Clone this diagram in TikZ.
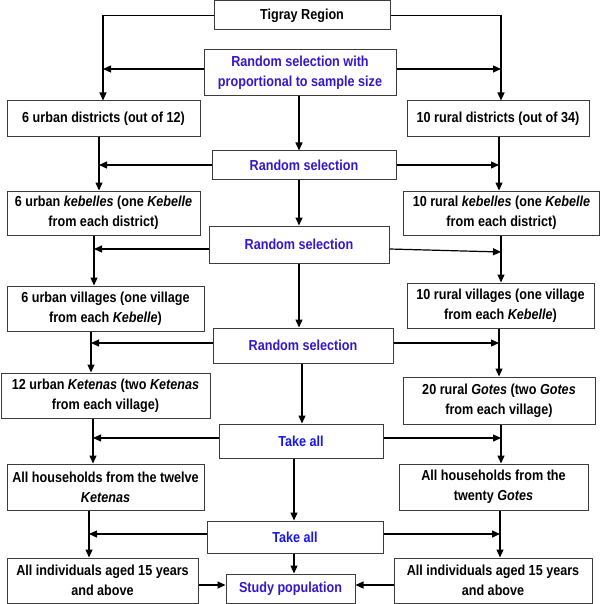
\documentclass[tikz,border=0pt]{standalone}
\usepackage{fontspec}
\setmainfont[FakeStretch=0.87]{Liberation Sans}
\usetikzlibrary{arrows.meta}
\definecolor{rsel}{RGB}{52,22,204}
\definecolor{takec}{RGB}{22,22,240}
\definecolor{boxc}{RGB}{60,60,60}
\begin{document}
\begin{tikzpicture}[x=1pt,y=-1pt,
  box/.style={draw=boxc,line width=1pt,rectangle,inner sep=0pt,align=center,
    font=\fontsize{14.5}{20}\selectfont\bfseries},
  bluebox/.style={box,text=rsel},
  takebox/.style={box,text=takec},
  ln/.style={line width=1.2pt,black},
  arr/.style={ln,-{Triangle[length=8pt,width=7pt]}}]
\useasboundingbox (0,0) rectangle (600,604);
% nodes
\node[box,minimum width=176,minimum height=29] (tig) at (302,15.5) {Tigray Region};
\node[bluebox,minimum width=192,minimum height=46] (rs1) at (300,73) {Random selection with\\proportional to sample size};
\node[box,minimum width=193,minimum height=36] (ud) at (103.5,119) {6 urban districts (out of 12)};
\node[box,minimum width=182,minimum height=36] (rd) at (498,119) {10 rural districts (out of 34)};
\node[bluebox,minimum width=184,minimum height=28] (rs2) at (304,165) {Random selection};
\node[box,minimum width=193,minimum height=44] (uk) at (103.5,213) {6 urban \textit{kebelles} (one \textit{Kebelle}\\from each district)};
\node[box,minimum width=196,minimum height=44] (rk) at (501.5,213) {10 rural \textit{kebelles} (one \textit{Kebelle}\\from each district)};
\node[bluebox,minimum width=180,minimum height=37] (rs3) at (299,244.5) {Random selection};
\node[box,minimum width=197,minimum height=45] (uv) at (105.5,308.5) {6 urban villages (one village\\from each \textit{Kebelle})};
\node[box,minimum width=187,minimum height=45] (rv) at (500.5,305.5) {10 rural villages (one village\\from each \textit{Kebelle})};
\node[bluebox,minimum width=180,minimum height=35] (rs4) at (303,345.5) {Random selection};
\node[box,minimum width=209,minimum height=45] (uket) at (105.5,395.5) {12 urban \textit{Ketenas} (two \textit{Ketenas}\\from each village)};
\node[box,minimum width=192,minimum height=47] (rg) at (499,400.5) {20 rural \textit{Gotes} (two \textit{Gotes}\\from each village)};
\node[takebox,minimum width=164,minimum height=34] (ta1) at (301,441) {Take all};
\node[box,minimum width=197,minimum height=46] (uh) at (105.5,487) {All households from the twelve\\\textit{Ketenas}};
\node[box,minimum width=189,minimum height=46] (rh) at (493.5,487) {All households from the\\twenty \textit{Gotes}};
\node[takebox,minimum width=176,minimum height=32] (ta2) at (295,537) {Take all};
\node[box,minimum width=191,minimum height=45] (ui) at (102.5,580.5) {All individuals aged 15 years\\and above};
\node[box,minimum width=198,minimum height=45] (ri) at (493,580.5) {All individuals aged 15 years\\and above};
\node[bluebox,minimum width=129,minimum height=29] (sp) at (290.5,588.5) {Study population};
% column and row coordinates
\coordinate (L1) at (103,0); \coordinate (L2) at (99,0); \coordinate (L3) at (94,0);
\coordinate (L4) at (91,0); \coordinate (L5) at (93,0); \coordinate (L6) at (89,0);
\coordinate (R1) at (501,0); \coordinate (R2) at (499,0); \coordinate (R3) at (501,0);
\coordinate (R4) at (499,0); \coordinate (R5) at (501,0); \coordinate (R6) at (500,0);
\coordinate (C1) at (299,0); \coordinate (C4) at (302,0); \coordinate (C5) at (294,0);
\coordinate (h1) at (0,69); \coordinate (h2) at (0,165); \coordinate (h3) at (0,249);
\coordinate (h3a) at (0,249); \coordinate (h3b) at (0,252);
\coordinate (h4) at (0,343); \coordinate (h5) at (0,438); \coordinate (h6) at (0,534);
\coordinate (h7) at (0,585);
% top branches
\draw[arr] (tig.west) -| (L1 |- ud.north);
\draw[arr] (tig.east) -| (R1 |- rd.north);
% left column
\draw[arr] (L2 |- ud.south) -- (L2 |- uk.north);
\draw[arr] (L3 |- uk.south) -- (L3 |- uv.north);
\draw[arr] (L4 |- uv.south) -- (L4 |- uket.north);
\draw[arr] (L5 |- uket.south) -- (L5 |- uh.north);
\draw[arr] (L6 |- uh.south) -- (L6 |- ui.north);
% right column
\draw[arr] (R2 |- rd.south) -- (R2 |- rk.north);
\draw[arr] (R3 |- rk.south) -- (R3 |- rv.north);
\draw[arr] (R4 |- rv.south) -- (R4 |- rg.north);
\draw[arr] (R5 |- rg.south) -- (R5 |- rh.north);
\draw[arr] (R6 |- rh.south) -- (R6 |- ri.north);
% centre column
\draw[arr] (C1 |- rs1.south) -- (C1 |- rs2.north);
\draw[arr] (C1 |- rs2.south) -- (C1 |- rs3.north);
\draw[arr] (C1 |- rs3.south) -- (C1 |- rs4.north);
\draw[arr] (C4 |- rs4.south) -- (C4 |- ta1.north);
\draw[arr] (C5 |- ta1.south) -- (C5 |- ta2.north);
\draw[arr] (C5 |- ta2.south) -- (C5 |- sp.north);
% horizontal arrows
\draw[arr] (rs1.west |- h1) -- (L1 |- h1);
\draw[arr] (rs1.east |- h1) -- (R1 |- h1);
\draw[arr] (rs2.west |- h2) -- (L2 |- h2);
\draw[arr] (rs2.east |- h2) -- (R2 |- h2);
\draw[arr] (rs3.west |- h3) -- (L3 |- h3);
\draw[arr] (rs3.east |- h3a) -- (R3 |- h3b);
\draw[arr] (rs4.west |- h4) -- (L4 |- h4);
\draw[arr] (rs4.east |- h4) -- (R4 |- h4);
\draw[arr] (ta1.west |- h5) -- (L5 |- h5);
\draw[arr] (ta1.east |- h5) -- (R5 |- h5);
\draw[arr] (ta2.west |- h6) -- (L6 |- h6);
\draw[arr] (ta2.east |- h6) -- (R6 |- h6);
\draw[arr] (ui.east |- h7) -- (sp.west |- h7);
\draw[arr] (ri.west |- h7) -- (sp.east |- h7);
\end{tikzpicture}
\end{document}
